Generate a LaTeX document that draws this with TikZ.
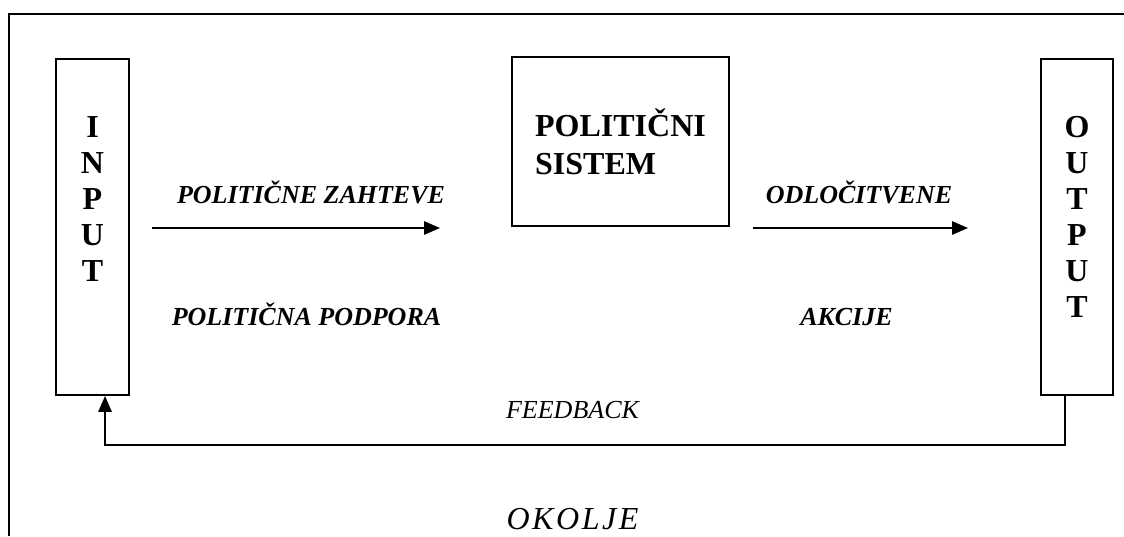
\documentclass[tikz,border=0pt]{standalone}
\usepackage{fontspec}
\setmainfont{Liberation Serif}
\usepackage{tikz}
\usetikzlibrary{arrows.meta}

\tikzset{
    box/.style={draw, line width=1.4pt, inner sep=0pt},
    letter/.style={anchor=base, font=\fontsize{24}{27}\selectfont\bfseries},
    flowlabel/.style={anchor=base, font=\fontsize{19.5}{23}\selectfont\bfseries\itshape},
    flow/.style={line width=1.4pt, -{Triangle[length=12pt, width=10pt]}}
}

\begin{document}
\begin{tikzpicture}[x=0.75pt, y=-0.75pt]
        \pgfmathsetmacro{\boxMid}{227}
        \pgfmathsetmacro{\arrowY}{228}
        \pgfmathsetmacro{\upperY}{203}
        \pgfmathsetmacro{\lowerY}{325}
        \pgfmathsetmacro{\letterStep}{36}

        \useasboundingbox (0,0) rectangle (1124,536);
        \draw[line width=1.3pt] (9,536) -- (9,14) -- (1124,14);

        \node[box, minimum width=54.75pt, minimum height=252pt] (input) at (92.5,\boxMid) {};
        \node[box, minimum width=54pt, minimum height=252pt] (output) at (1077,\boxMid) {};
        \node[box, minimum width=162.75pt, minimum height=126.75pt, align=left,
            font=\fontsize{24}{28.5}\selectfont\bfseries] (sistem) at (620.5,141.5)
            {POLITIČNI\\SISTEM};

        \foreach \ch [count=\i] in {I,N,P,U,T}
            \node[letter] (in\i) at (92.5, {137 + \letterStep*(\i-1)}) {\ch};
        \foreach \ch [count=\i] in {O,U,T,P,U,T}
            \node[letter] (out\i) at (1077, {137 + \letterStep*(\i-1)}) {\ch};

        \coordinate (zahteveStart) at (152,\arrowY);
        \coordinate (zahteveEnd) at (440,\arrowY);
        \coordinate (akcijeStart) at (753,\arrowY);
        \coordinate (akcijeEnd) at (968,\arrowY);
        \draw[flow] (zahteveStart) -- (zahteveEnd);
        \draw[flow] (akcijeStart) -- (akcijeEnd);

        \node[flowlabel] (zahteve) at (311,\upperY) {POLITIČNE ZAHTEVE};
        \node[flowlabel] (podpora) at (306.5,\lowerY) {POLITIČNA PODPORA};
        \node[flowlabel] (odlocitvene) at (859,\upperY) {ODLOČITVENE};
        \node[flowlabel] (akcije) at (846.5,\lowerY) {AKCIJE};

        % feedback loop below the boxes
        \draw[flow] ([xshift=-9pt]output.south) -- ++(0,49) -| ([xshift=9.4pt]input.south);
        \node[anchor=base, font=\fontsize{19.5}{23}\selectfont\itshape] (feedback) at (572.5,418) {FEEDBACK};

        \node[anchor=base, font=\fontsize{24}{28}\selectfont\itshape\addfontfeature{LetterSpace=8}]
            (okolje) at (572.5,529) {OKOLJE};
    \end{tikzpicture}
\end{document}
